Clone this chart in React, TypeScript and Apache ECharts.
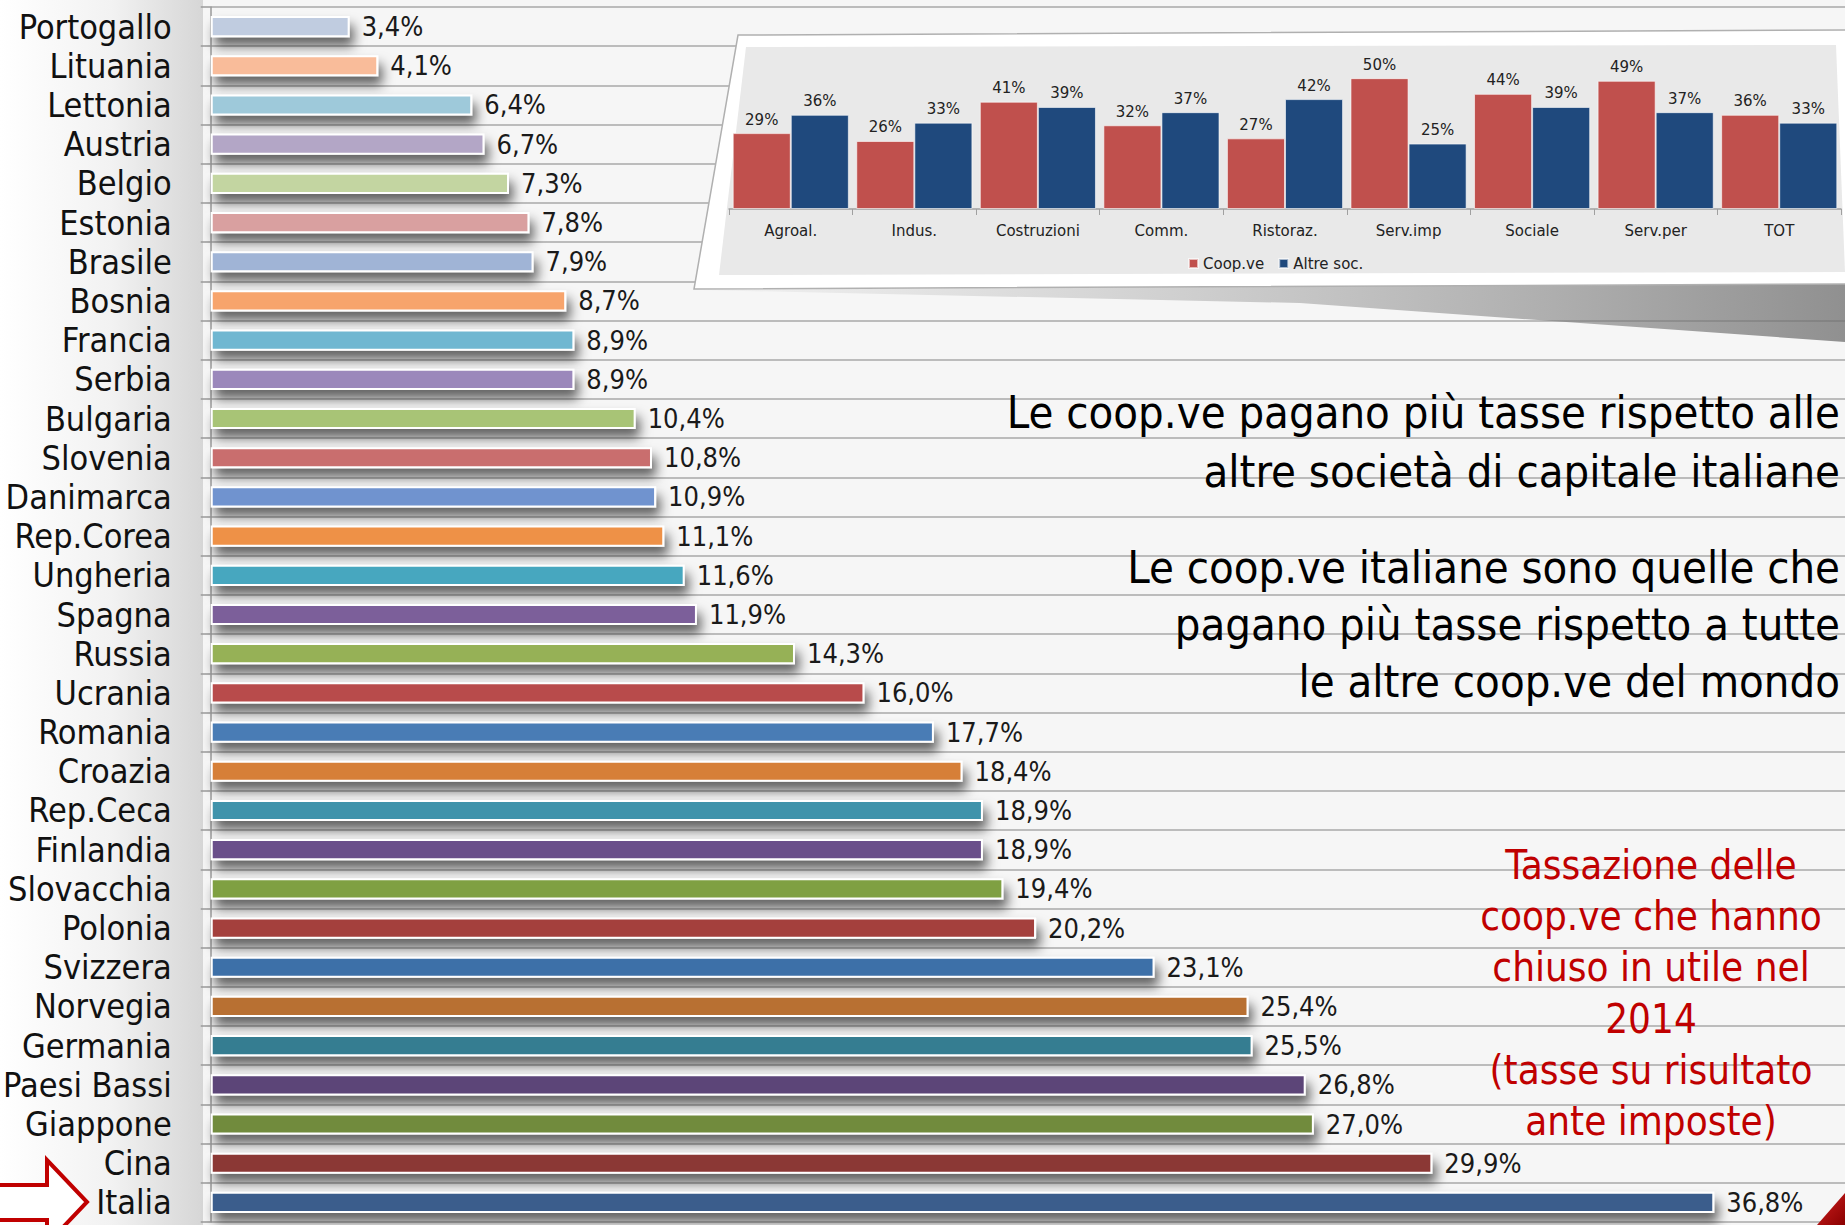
import React, { useEffect, useRef } from "react";
import * as echarts from "echarts";

const countries = [
  "Portogallo", "Lituania", "Lettonia", "Austria", "Belgio", "Estonia", "Brasile", "Bosnia",
  "Francia", "Serbia", "Bulgaria", "Slovenia", "Danimarca", "Rep.Corea", "Ungheria", "Spagna",
  "Russia", "Ucrania", "Romania", "Croazia", "Rep.Ceca", "Finlandia", "Slovacchia", "Polonia",
  "Svizzera", "Norvegia", "Germania", "Paesi Bassi", "Giappone", "Cina", "Italia",
];
const taxRates = [
  3.4, 4.1, 6.4, 6.7, 7.3, 7.8, 7.9, 8.7, 8.9, 8.9, 10.4, 10.8, 10.9, 11.1, 11.6, 11.9,
  14.3, 16.0, 17.7, 18.4, 18.9, 18.9, 19.4, 20.2, 23.1, 25.4, 25.5, 26.8, 27.0, 29.9, 36.8,
];
const barColors = [
  "#c0cce0", "#f9bc9a", "#9ec9da", "#b3a6c6", "#c3d5a1", "#d9a0a0", "#a0b4d6", "#f7a46c",
  "#6fb7d1", "#9b88bb", "#a8c476", "#c96e6e", "#6f93cf", "#ee9147", "#46a7bf", "#7b5e9a",
  "#96b157", "#b84c4b", "#4a7bb5", "#d67f39", "#3f93ab", "#6a508a", "#7fa043", "#a43f3e",
  "#3e6fa8", "#b86f31", "#347d91", "#5c4478", "#718b3e", "#8b3736", "#3a5d8c",
];

const sectors = ["Agroal.", "Indus.", "Costruzioni", "Comm.", "Ristoraz.", "Serv.imp", "Sociale", "Serv.per", "TOT"];
const coopValues = [29, 26, 41, 32, 27, 50, 44, 49, 36];
const altreValues = [36, 33, 39, 37, 42, 25, 39, 37, 33];
const seriesNames = ["Coop.ve", "Altre soc."];

const para1 = ["Le coop.ve pagano più tasse rispetto alle", "altre società di capitale italiane"];
const para2 = ["Le coop.ve italiane sono quelle che", "pagano più tasse rispetto a tutte", "le altre coop.ve del mondo"];
const redNote = ["Tassazione delle", "coop.ve che hanno", "chiuso in utile nel", "2014", "(tasse su risultato", "ante imposte)"];

const FONT = "'DejaVu Sans Condensed', 'DejaVu Sans', sans-serif";
const FONT_N = "'DejaVu Sans', sans-serif";

export default function App() {
  const ref = useRef<HTMLDivElement>(null);
  useEffect(() => {
    if (!ref.current) return;
    const chart = echarts.init(ref.current, null, { renderer: "svg" });

    const textEls: any[] = [];
    const p1y = [412, 471];
    para1.forEach((t, i) =>
      textEls.push({
        type: "text", x: 1840, y: p1y[i], z: 3,
        style: { text: t, fill: "#000", fontSize: 45, fontFamily: FONT, align: "right", textAlign: "right", verticalAlign: "middle", textVerticalAlign: "middle" },
      })
    );
    const p2y = [567, 624, 681];
    para2.forEach((t, i) =>
      textEls.push({
        type: "text", x: 1840, y: p2y[i], z: 3,
        style: { text: t, fill: "#000", fontSize: 45, fontFamily: FONT, align: "right", textAlign: "right", verticalAlign: "middle", textVerticalAlign: "middle" },
      })
    );
    redNote.forEach((t, i) =>
      textEls.push({
        type: "text", x: 1651, y: 865 + i * 51.2, z: 3,
        style: { text: t, fill: "#c00000", fontSize: 40, fontFamily: FONT, align: "center", textAlign: "center", verticalAlign: "middle", textVerticalAlign: "middle" },
      })
    );

    chart.setOption({
      animation: false,
      backgroundColor: "#f6f6f6",
      graphic: {
        elements: [
          {
            type: "rect", z: -10, silent: true,
            shape: { x: 0, y: 0, width: 203, height: 1225 },
            style: {
              fill: new echarts.graphic.LinearGradient(0, 0, 1, 0, [
                { offset: 0, color: "#ffffff" },
                { offset: 0.55, color: "#f2f2f2" },
                { offset: 1, color: "#d6d6d6" },
              ]),
            },
          },
          // card shadow
          {
            type: "polygon", z: 4, silent: true,
            shape: { points: [[700, 290], [1845, 282], [1845, 342], [1300, 303]] },
            style: {
              fill: new echarts.graphic.LinearGradient(0, 0, 1, 0, [
                { offset: 0, color: "rgba(150,150,150,0.05)" },
                { offset: 1, color: "rgba(110,110,110,0.75)" },
              ]),
            },
          },
          // white card
          {
            type: "polygon", z: 5, silent: true,
            shape: { points: [[738, 35], [1850, 30], [1850, 284], [694, 289]] },
            style: { fill: "#ffffff", stroke: "#b0b0b0", lineWidth: 1.5 },
          },
          // grey plot panel
          {
            type: "polygon", z: 6, silent: true,
            shape: { points: [[746, 47], [1836, 45], [1845, 272], [719, 275]] },
            style: { fill: "#e9e9e9" },
          },
          ...textEls,
          // arrow
          {
            type: "polygon", z: 8, silent: true,
            shape: { points: [[-10, 1185], [47, 1185], [47, 1160], [87, 1202], [47, 1244], [47, 1220], [-10, 1220]] },
            style: { fill: "#ffffff", stroke: "#c00000", lineWidth: 4 },
          },
          // red corner
          {
            type: "polygon", z: 8, silent: true,
            shape: { points: [[1817, 1225], [1845, 1193], [1845, 1225]] },
            style: {
              fill: new echarts.graphic.LinearGradient(0, 0, 1, 1, [
                { offset: 0, color: "#d02020" },
                { offset: 1, color: "#8a0000" },
              ]),
            },
          },
        ],
      },
      legend: {
        show: true,
        data: seriesNames,
        left: 1183,
        top: 251,
        z: 20,
        icon: "rect",
        itemWidth: 9,
        itemHeight: 9,
        itemGap: 14,
        textStyle: { fontFamily: FONT_N, fontSize: 15, color: "#222" },
      },
      grid: [
        { left: 203, right: 0, top: 7, height: 1215, containLabel: false },
        { left: 729, width: 1112, top: 52, height: 157, containLabel: false },
      ],
      xAxis: [
        { type: "value", gridIndex: 0, min: 0, max: 40, show: false },
        {
          type: "category", gridIndex: 1, data: sectors, z: 10,
          axisLine: { lineStyle: { color: "#a0a0a0", width: 1.5 } },
          axisTick: { show: true, length: 6, interval: 0, lineStyle: { color: "#a0a0a0" } },
          axisLabel: { fontFamily: FONT_N, fontSize: 15, color: "#222", margin: 14, interval: 0 },
          splitLine: { show: false },
        },
      ],
      yAxis: [
        {
          type: "category", gridIndex: 0, data: countries, inverse: true,
          axisLine: { show: true, lineStyle: { color: "#9a9a9a", width: 1.5 } },
          axisTick: { show: true, length: 10, interval: 0, lineStyle: { color: "#9a9a9a", width: 1.5 } },
          axisLabel: { fontFamily: FONT, fontSize: 34, color: "#111", margin: 39, interval: 0 },
          splitLine: { show: true, interval: 0, lineStyle: { color: "#a8a8a8", width: 1.5 } },
        },
        { type: "value", gridIndex: 1, min: 0, max: 60, show: false },
      ],
      series: [
        {
          type: "bar", xAxisIndex: 0, yAxisIndex: 0,
          barWidth: "54%",
          data: taxRates.map((v, i) => ({ value: v, itemStyle: { color: barColors[i] } })),
          itemStyle: {
            borderColor: "#ffffff", borderWidth: 2,
            shadowBlur: 12, shadowOffsetX: 4, shadowOffsetY: 9, shadowColor: "rgba(0,0,0,0.6)",
          },
          label: {
            show: true, position: "right", distance: 12,
            fontFamily: FONT, fontSize: 27, color: "#1a1a1a",
            formatter: (p: any) => p.value.toFixed(1).replace(".", ",") + "%",
          },
        },
        {
          name: seriesNames[0], type: "bar", xAxisIndex: 1, yAxisIndex: 1, z: 10,
          data: coopValues, barGap: "0%", barCategoryGap: "6%",
          itemStyle: { color: "#c0504d", borderColor: "rgba(255,255,255,0.6)", borderWidth: 1 },
          label: { show: true, position: "top", distance: 6, fontFamily: FONT_N, fontSize: 15, color: "#222", formatter: "{c}%" },
        },
        {
          name: seriesNames[1], type: "bar", xAxisIndex: 1, yAxisIndex: 1, z: 10,
          data: altreValues, barGap: "0%", barCategoryGap: "6%",
          itemStyle: { color: "#1f497d", borderColor: "rgba(255,255,255,0.6)", borderWidth: 1 },
          label: { show: true, position: "top", distance: 6, fontFamily: FONT_N, fontSize: 15, color: "#222", formatter: "{c}%" },
        },
      ],
    });
    return () => chart.dispose();
  }, []);
  return (
    <div
      ref={ref}
      style={{ position: "fixed", left: 0, top: 0, width: 1845, height: 1225, overflow: "hidden" }}
    />
  );
}
